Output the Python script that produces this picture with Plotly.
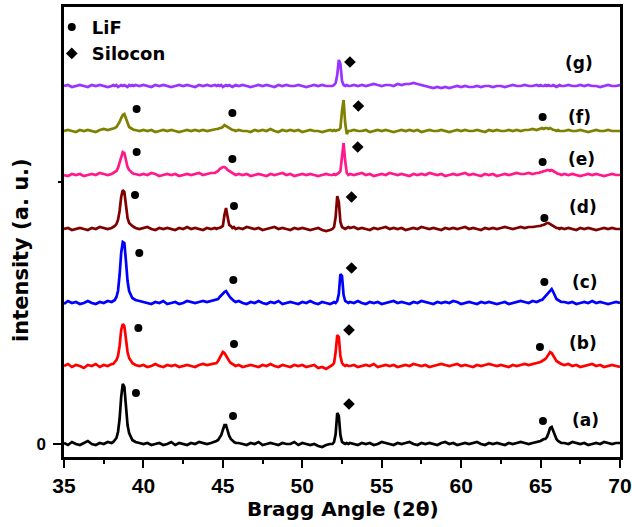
import plotly.graph_objects as go

# ---------------- data ----------------
two_theta = [
    35.0, 35.25, 35.5, 35.75, 36.0, 36.25, 36.5, 36.75, 37.0, 37.25, 37.5, 37.75, 38.0,
    38.1, 38.2, 38.3, 38.4, 38.5, 38.6, 38.7, 38.8, 38.9, 39.0, 39.1, 39.2, 39.3, 39.4, 39.5,
    39.75, 40.0, 40.25, 40.5, 40.75, 41.0, 41.25, 41.5, 41.75, 42.0, 42.25, 42.5, 42.75, 43.0,
    43.25, 43.5, 43.75, 44.0, 44.25, 44.5,
    44.6, 44.7, 44.8, 44.9, 45.0, 45.1, 45.2, 45.3, 45.4, 45.5, 45.6, 45.7, 45.8,
    46.0, 46.25, 46.5, 46.75, 47.0, 47.25, 47.5, 47.75, 48.0, 48.25, 48.5, 48.75, 49.0, 49.25,
    49.5, 49.75, 50.0, 50.25, 50.5, 50.75, 51.0, 51.25, 51.5, 51.75,
    51.9, 52.0, 52.1, 52.2, 52.3, 52.4, 52.5, 52.6, 52.7, 52.8, 52.9,
    53.0, 53.25, 53.5, 53.75, 54.0, 54.25, 54.5, 54.75, 55.0, 55.25, 55.5, 55.75,
    56.0, 56.25, 56.5, 56.75, 57.0, 57.25, 57.5, 57.75, 58.0, 58.25, 58.5, 58.75,
    59.0, 59.25, 59.5, 59.75, 60.0, 60.25, 60.5, 60.75, 61.0, 61.25, 61.5, 61.75,
    62.0, 62.25, 62.5, 62.75, 63.0, 63.25, 63.5, 63.75, 64.0, 64.25, 64.5, 64.75,
    64.9, 65.0, 65.1, 65.2, 65.3, 65.4, 65.5, 65.6, 65.7, 65.8, 65.9, 66.0, 66.1, 66.2, 66.3,
    66.5, 66.75, 67.0, 67.25, 67.5, 67.75, 68.0, 68.25, 68.5, 68.75, 69.0, 69.25, 69.5, 69.75, 70.0,
]

int_a = [
    1, -1, 2, 0, -1, 1, 3, 0, -1, 1, 0, 2, 1,
    2, 4, 6, 12, 25, 47, 60, 57, 39, 19, 11, 7, 4, 3, 2,
    1, 0, 1, -1, 0, 1, -1, 0, 2, -1, 1, 0, -1, 1, 0, 2, 1, 0, 1, 2,
    3, 4, 6, 9, 14, 19, 19, 13, 8, 5, 3, 2, 1,
    1, 0, -1, 1, 0, 2, -1, 0, 1, 0, -1, 1, 0, 0, 2, -1, 1, 0, -1, 0, -2, -3, -1, 0,
    0, 2, 10, 31, 28, 9, 2, 1, 0, 1, 0,
    1, 0, -1, 1, 0, 1, -1, 0,
    2, 1, 0, -1, 1, 0, 1, 2,
    0, -1, 1, 0, 1, 0, -1, 1,
    2, 0, 1, -1, 0, 1, 0, 1,
    2, 0, -1, 1, 0, 1, 0, -1,
    1, 0, 1, 2, 1, 0, 1, 2,
    2, 3, 4, 5, 5, 7, 11, 16, 17, 13, 8, 5, 3, 2, 1,
    1, 0, 2, 1, 0, 1, -1, 0, 1, 0, 2, 1, 0, 1, 1,
]
int_b = [
    0, 2, -1, 1, 0, -2, 1, 0, 2, -1, 1, 0, 2,
    2, 4, 6, 10, 20, 36, 42, 40, 28, 14, 8, 5, 3, 2, 1,
    0, 1, -1, 0, 2, 0, -1, 1, 0, 1, -1, 0, 1, 0, -1, 1, 2, 1, 2, 3,
    3, 5, 8, 11, 14, 13, 10, 7, 5, 3, 2, 1, 0,
    1, -1, 0, 1, 0, -1, 1, 0, 2, 0, -1, 1, 0, -1, 1, 0, 1, -1, 0, 1, -2, -1, -3, -1,
    1, 3, 14, 31, 29, 10, 3, 1, 0, 1, 0,
    0, 1, -1, 0, 1, 0, 2, -1,
    0, 1, 0, 1, -1, 0, 1, 0,
    2, 1, 0, 1, -1, 0, 1, 2,
    1, 0, 1, 2, 0, 1, 0, -1,
    1, 0, 1, 2, 1, 0, 1, 0,
    -1, 1, 0, 1, 2, 1, 2, 3,
    3, 4, 5, 6, 7, 9, 12, 14, 13, 10, 7, 5, 4, 3, 2,
    1, 2, 0, 1, -1, 0, 1, 2, 0, 1, -1, 0, 1, 0, -1,
]
int_c = [
    -1, 2, 0, 1, -1, 0, 2, 0, -1, 1, 0, 2, 1,
    2, 3, 6, 12, 28, 50, 61, 60, 42, 22, 12, 8, 5, 4, 3,
    2, 1, 0, -1, 1, 0, 2, -1, 0, 1, -1, 0, 2, 1, 0, 1, 2, 1, 2, 3,
    3, 4, 6, 8, 10, 11, 12, 9, 7, 5, 3, 2, 1,
    2, 0, -1, 1, 0, 2, 0, -1, 1, 0, 2, -1, 0, 1, 0, -1, 1, 0, 2, 0, -1, 1, 0, -1,
    0, 1, 0, 2, 9, 29, 27, 8, 2, 1, 0,
    1, 0, 2, 0, -1, 1, 0, 1,
    -1, 0, 1, 2, 0, 1, 0, -1,
    1, 0, 2, 1, 0, -1, 1, 0,
    1, 0, 2, 1, -1, 0, 1, 0,
    -1, 1, 0, 1, 0, -1, 0, 1,
    -1, 0, 1, 2, 1, 0, 2, 1,
    2, 3, 3, 5, 6, 8, 11, 13, 14, 11, 7, 4, 3, 2, 1,
    1, 0, 1, -1, 0, 1, 0, 2, 0, 1, 0, -1, 0, 1, 0,
]
int_d = [
    0, 1, -1, 0, 1, 0, -1, 1, 0, 2, 1, 0, 1,
    2, 3, 5, 9, 18, 32, 39, 37, 24, 11, 6, 4, 3, 2, 1,
    0, 1, 2, 0, -1, 1, 0, 1, 0, -1, 1, 0, 2, 0, 1, 0, -1, 1, 0, 1,
    0, 1, 1, 2, 3, 14, 21, 12, 4, 3, 1, 2, 0,
    1, 0, 2, 1, 0, 1, -1, 0, 1, 2, 0, 1, 0, -1, 1, 0, 1, 0, -1, 0, 1, -1, -2, -1,
    0, 2, 12, 33, 27, 7, 2, 1, 0, 1, 2,
    1, 2, 0, 1, 0, -1, 1, 0,
    1, 2, 0, 1, 0, 1, -1, 0,
    1, 0, 2, 1, 0, 1, 0, -1,
    1, 0, 1, 0, 1, 2, 0, 1,
    0, -1, 1, 0, 1, 0, 1, 2,
    1, 0, 1, 2, 1, 2, 2, 3,
    3, 3, 4, 4, 5, 6, 6, 5, 4, 3, 2, 1, 1, 0, 1,
    0, 1, 0, -1, 1, 0, 1, 0, -1, 0, 1, 0, 1, 0, 0,
]
int_e = [
    0, -1, 1, 0, 1, -1, 0, 1, 0, 2, 1, 0, 1,
    2, 3, 4, 7, 12, 19, 23, 22, 15, 8, 5, 3, 2, 1, 1,
    0, 1, 0, 2, 1, -1, 0, 1, 0, 1, -1, 0, 1, 0, 1, 2, 0, 1, 2, 2,
    3, 4, 6, 7, 8, 8, 7, 5, 4, 3, 2, 1, 0,
    1, 0, 1, -1, 0, 1, 0, -1, 1, 0, 1, 2, 0, 1, -1, 0, 1, 0, 1, 0, -1, 0, 1, 0,
    0, 1, 0, 1, 2, 4, 16, 32, 14, 2, 0,
    1, 0, 1, 2, 0, 1, -1, 0,
    1, 0, 2, 1, 0, 1, 0, -1,
    1, 0, 1, 0, 2, 1, 0, 1,
    -1, 0, 1, 0, 1, 2, 0, 1,
    0, -1, 1, 0, 1, -1, 0, 1,
    0, 1, 2, 1, 1, 2, 1, 2,
    2, 3, 3, 4, 4, 5, 5, 4, 5, 4, 3, 2, 1, 1, 0,
    1, 0, 1, 0, -1, 0, 1, 0, 1, 0, -1, 0, 1, 0, 0,
]
int_f = [
    0, 1, 0, -1, 1, 0, 1, 0, -1, 1, 2, 1, 2,
    2, 3, 4, 6, 9, 13, 16, 17, 12, 7, 4, 3, 2, 1, 1,
    0, 1, 0, 1, -1, 0, 1, 0, 1, 0, -1, 0, 1, 0, 1, 0, 1, 0, 1, 2,
    2, 2, 3, 3, 4, 6, 5, 4, 3, 2, 1, 1, 0,
    1, 0, 0, -1, 1, 0, 1, 0, 2, 0, -1, 1, 0, 1, 0, 1, -1, 0, 1, 0, 0, -1, 0, 1,
    0, 1, 0, 1, 1, 3, 20, 31, 8, -3, 0,
    0, 1, 0, 0, 1, -1, 0, 1,
    0, 1, 0, -1, 0, 1, 0, 1,
    0, 1, -1, 0, 1, 0, 0, 1,
    0, -1, 0, 1, 0, 1, 0, 0,
    1, 0, -1, 1, 0, 1, 0, 0,
    1, 0, 1, 0, 1, 1, 2, 1,
    2, 2, 3, 2, 3, 3, 2, 3, 2, 1, 1, 0, 1, 0, 0,
    0, 1, 0, 0, 1, 0, -1, 0, 1, 0, 0, 1, 0, 0, 0,
]
int_g = [
    0, 1, -1, 0, 1, 0, -1, 1, 0, 1, 0, -1, 0,
    1, 0, 1, -1, 0, 1, 0, 1, 0, -1, 1, 0, 1, 0, 1,
    0, 1, 0, -1, 1, 0, 1, 0, -1, 0, 1, 0, 1, 0, -1, 1, 0, 1, 0, 1,
    0, 1, 0, 1, -1, 0, 1, 0, 1, 0, -1, 0, 1,
    0, 1, 0, -1, 0, 1, 0, 1, 0, -1, 1, 0, 1, 0, 0, 1, 0, -1, 0, 1, 0, 1, 0, 0,
    0, 1, 3, 11, 26, 22, 5, 1, 0, 1, 0,
    0, 1, 0, 1, 0, 1, 2, 1,
    0, 1, 1, 0, 2, 1, 2, 2,
    3, 2, 1, 0, -1, -2, -1, -2,
    -1, -2, -1, 0, -1, 0, -1, -1,
    0, -1, 0, 0, -1, 0, 0, -1,
    0, 1, 0, 0, 1, 0, 0, 1,
    0, 1, 0, 0, 1, 0, 1, 0, 0, 1, 0, -1, 0, 1, 0,
    0, 1, 0, 0, 1, 0, 1, 0, 0, -1, 0, 1, 0, 0, 1,
]

sample_labels = ["(a)", "(b)", "(c)", "(d)", "(e)", "(f)", "(g)"]
stack_offsets = [0, 78, 141, 215, 269, 313, 358]
patterns = [int_a, int_b, int_c, int_d, int_e, int_f, int_g]
colors = ["#000000", "#FF0000", "#0000FF", "#800000", "#FF1A8C", "#808000", "#9933FF"]

# peak markers (position in 2θ, height in stacked units)
lif_x = [39.53, 45.64, 65.15, 39.68, 45.70, 64.96, 39.74, 45.66, 65.24,
         39.47, 45.70, 65.24, 39.57, 45.60, 65.13, 39.57, 45.60, 65.13]
lif_y = [51, 28, 23, 116, 100, 97, 191, 164, 162,
         249, 238, 226, 292, 285, 282, 335, 331, 327]
si_x = [52.94, 52.94, 53.10, 53.10, 53.49, 53.53, 53.00]
si_y = [40, 114, 176, 247, 297, 338, 382]

label_x = [67.80, 67.69, 67.80, 67.69, 67.59, 67.48, 67.44]
label_y = [24, 101, 162, 237, 285, 327, 381]

# ---------------- figure ----------------
fig = go.Figure()

for pat, off, col, name in zip(patterns, stack_offsets, colors, sample_labels):
    fig.add_trace(go.Scatter(
        x=two_theta, y=[v + off for v in pat], mode="lines",
        line=dict(color=col, width=2.7), showlegend=False, name=name,
    ))

fig.add_trace(go.Scatter(
    x=lif_x, y=lif_y, mode="markers", name="LiF",
    marker=dict(symbol="circle", size=8, color="black"),
))
fig.add_trace(go.Scatter(
    x=si_x, y=si_y, mode="markers", name="Silocon",
    marker=dict(symbol="diamond", size=9, color="black"),
))

bold = "DejaVu Sans"
for lx, ly, txt in zip(label_x, label_y, sample_labels):
    fig.add_annotation(x=lx, y=ly, text=txt, showarrow=False,
                       font=dict(family=bold, size=17, color="black", weight="bold"),
                       xanchor="center", yanchor="middle")

fig.add_annotation(xref="paper", yref="paper", x=(343 - 64) / 556, y=(457 - 509) / 450,
                   text="Bragg Angle (2θ)", showarrow=False,
                   font=dict(family=bold, size=20, color="black", weight="bold"),
                   xanchor="center", yanchor="middle")
fig.add_annotation(xref="paper", yref="paper", x=(21 - 64) / 556, y=(457 - 250) / 450,
                   text="intensity (a. u.)", showarrow=False, textangle=-90,
                   font=dict(family=bold, size=21, color="black", weight="bold"),
                   xanchor="center", yanchor="middle")

tickfam = "Liberation Sans, Arial, sans-serif"
fig.update_layout(
    width=632, height=527,
    margin=dict(l=64, r=12, t=7, b=70, autoexpand=False),
    paper_bgcolor="white", plot_bgcolor="white",
    legend=dict(x=-0.022, y=0.996, xanchor="left", yanchor="top",
                bgcolor="rgba(0,0,0,0)", itemwidth=30, tracegroupgap=0,
                font=dict(family=bold, size=18, color="black", weight="bold")),
    xaxis=dict(range=[35, 70], tick0=35, dtick=5, ticks="outside", ticklen=8,
               tickwidth=2, tickcolor="black", showline=True, linewidth=2.5,
               linecolor="black", mirror=True, showgrid=False, zeroline=False,
               ticklabeloverflow="allow",
               tickfont=dict(family=tickfam, size=21, color="black", weight="bold"),
               minor=dict(dtick=2.5, tick0=35, ticks="outside", ticklen=4,
                          tickwidth=2, tickcolor="black")),
    yaxis=dict(range=[-13, 437], tickmode="array", tickvals=[0], ticktext=["0"],
               ticks="outside", ticklen=8, tickwidth=2, tickcolor="black",
               ticklabelstandoff=4,
               showline=True, linewidth=2.5, linecolor="black", mirror=True,
               showgrid=False, zeroline=False,
               tickfont=dict(family=tickfam, size=17, color="black", weight="bold"),
               minor=dict(tickmode="array", tickvals=[262], ticks="outside",
                          ticklen=3, tickwidth=1.5, tickcolor="black")),
)

fig.write_html("out.html", config={"displayModeBar": False},
               post_script="document.body.style.margin='0';")
